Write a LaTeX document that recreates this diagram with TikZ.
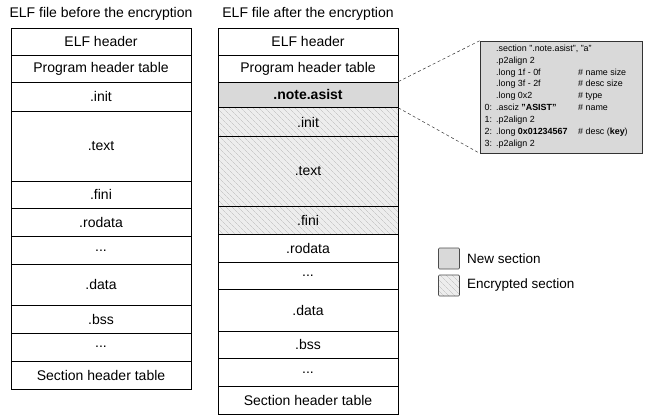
\documentclass[tikz,border=0pt]{standalone}
\usepackage{fontspec}
\setmainfont{Liberation Sans}
\usetikzlibrary{patterns.meta,shadows}

\definecolor{newsec}{gray}{0.85}
\definecolor{encbg}{gray}{0.93}
\definecolor{enchatch}{gray}{0.72}

\tikzset{
  cell/.style={draw=black, line width=0.7pt, minimum width=180pt, inner sep=0pt,
               font=\fontsize{14}{16}\selectfont},
  newcell/.style={cell, fill=newsec, font=\fontsize{14}{16}\selectfont\bfseries},
  enccell/.style={cell, preaction={fill=encbg},
                  pattern={Lines[angle=-45,distance=4pt,line width=0.35pt]},
                  pattern color=enchatch},
  coltitle/.style={inner sep=0pt, font=\fontsize{14}{16}\selectfont},
  codebox/.style={draw=black!80, line width=0.6pt, fill=newsec,
                  drop shadow={shadow xshift=1pt, shadow yshift=-1pt, opacity=0.7, fill=black!70}},
  zoomline/.style={draw=black!80, line width=0.5pt, dash pattern=on 3pt off 2.5pt},
  legbox/.style={draw=black!70, line width=0.6pt, minimum size=21pt, inner sep=0pt, rounded corners=1pt},
  legtext/.style={anchor=west, inner sep=0pt, font=\fontsize{13.5}{16}\selectfont},
}

% one section of an ELF layout: name, x centre, top, bottom, label, style
\newcommand\elfcell[6]{\node[#6, minimum height={(#4-#3)*1pt}] (#1) at (#2,{(#3+#4)/2}) {#5};}

\begin{document}
\begin{tikzpicture}[x=1pt, y=-1pt]
  \useasboundingbox (0,0) rectangle (654,418);

  % ---- ELF file before the encryption ----
  \node[coltitle] (tleft) at (101,14) {ELF file before the encryption};
  \elfcell{l1}{101}{28}{55}{ELF header}{cell}
  \elfcell{l2}{101}{55}{82}{Program header table}{cell}
  \elfcell{l3}{101}{82}{111}{.init}{cell}
  \elfcell{l4}{101}{111}{181}{.text}{cell}
  \elfcell{l5}{101}{181}{208.5}{.fini}{cell}
  \elfcell{l6}{101}{208.5}{236.5}{.rodata}{cell}
  \elfcell{l7}{101}{236.5}{264}{...}{cell}
  \elfcell{l8}{101}{264}{305.5}{.data}{cell}
  \elfcell{l9}{101}{305.5}{333}{.bss}{cell}
  \elfcell{l10}{101}{333}{361}{...}{cell}
  \elfcell{l11}{101}{361}{389}{Section header table}{cell}

  % ---- ELF file after the encryption ----
  \node[coltitle] (tright) at (308,14) {ELF file after the encryption};
  \elfcell{r1}{308}{28}{55}{ELF header}{cell}
  \elfcell{r2}{308}{55}{82}{Program header table}{cell}
  \elfcell{r3}{308}{82}{107.5}{.note.asist}{newcell}
  \elfcell{r4}{308}{107.5}{136.5}{.init}{enccell}
  \elfcell{r5}{308}{136.5}{206.5}{.text}{enccell}
  \elfcell{r6}{308}{206.5}{234}{.fini}{enccell}
  \elfcell{r7}{308}{234}{262}{.rodata}{cell}
  \elfcell{r8}{308}{262}{289.5}{...}{cell}
  \elfcell{r9}{308}{289.5}{331}{.data}{cell}
  \elfcell{r10}{308}{331}{358.5}{.bss}{cell}
  \elfcell{r11}{308}{358.5}{386.5}{...}{cell}
  \elfcell{r12}{308}{386.5}{414.5}{Section header table}{cell}

  % ---- contents of the new note section ----
  \node[codebox, minimum width=162pt, minimum height=112pt, inner sep=0pt] (code) at (561,97) {};
  \node[anchor=north west, inner sep=0pt, font=\fontsize{8.9}{11.9}\selectfont] (codetext) at (484.5,42.7) {%
    \begin{tabular}{@{}p{11.5pt}@{}p{82pt}@{}l@{}}
       & \multicolumn{2}{@{}l@{}}{.section ".note.asist", "a"} \\
       & .p2align 2 & \\
       & .long 1f - 0f & \# name size \\
       & .long 3f - 2f & \# desc size \\
       & .long 0x2 & \# type \\
    0: & .asciz \textbf{"ASIST"} & \# name \\
    1: & .p2align 2 & \\
    2: & .long \textbf{0x01234567} & \# desc (\textbf{key}) \\
    3: & .p2align 2 &
    \end{tabular}};

  \draw[zoomline] (r3.north east) -- (code.north west);
  \draw[zoomline] (r3.south east) -- (code.south west);

  % ---- legend ----
  \node[legbox, fill=newsec] (lnew) at (449,258.5) {};
  \node[legtext] (lnewt) at (467,258.5) {New section};
  \node[legbox, preaction={fill=encbg},
        pattern={Lines[angle=-45,distance=4pt,line width=0.35pt]},
        pattern color=enchatch] (lenc) at (449,285.5) {};
  \node[legtext] (lenct) at (467,285.5) {Encrypted section};
\end{tikzpicture}
\end{document}
